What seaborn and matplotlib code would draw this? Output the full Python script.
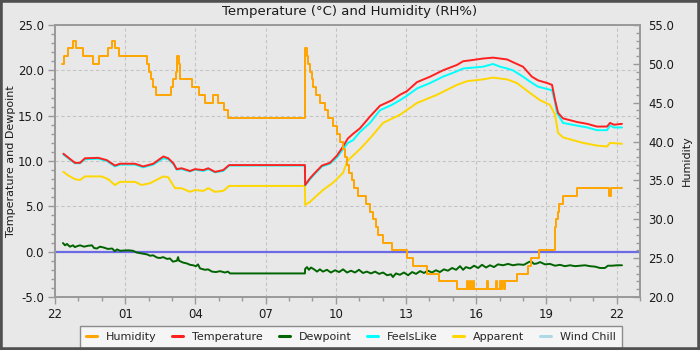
import matplotlib
matplotlib.use("Agg")
import matplotlib.pyplot as plt
from matplotlib.lines import Line2D
from matplotlib.patches import Rectangle
from matplotlib.ticker import MultipleLocator, FixedLocator
import pandas as pd
import seaborn as sns

# All times are hours after 22:00 on the first evening.
hum_hours = [0.30, 0.40, 0.55, 0.75, 0.90, 1.20, 1.62, 1.88, 2.27, 2.42, 2.55, 2.75,
             3.93, 4.02, 4.10, 4.20, 4.33, 4.96, 5.06, 5.15, 5.22, 5.28, 5.33, 5.86,
             6.15, 6.41, 6.75, 6.97, 7.23, 7.40, 10.68, 10.75, 10.82, 10.90, 10.97,
             11.03, 11.15, 11.33, 11.52, 11.67, 11.86, 12.05, 12.20, 12.29, 12.40,
             12.48, 12.58, 12.68, 12.78, 12.95, 13.30, 13.45, 13.58, 13.71, 13.80,
             14.02, 14.40, 15.04, 15.30, 15.90, 16.41, 17.18, 17.60, 17.65, 17.72,
             17.77, 17.85, 17.89, 18.45, 18.52, 18.85, 18.90, 19.00, 19.05, 19.12,
             19.17, 19.23, 19.74, 20.21, 20.34, 20.68, 21.37, 21.43, 21.50, 21.54,
             21.71, 22.31, 23.68, 23.76, 24.23]
hum_values = [50, 51, 52, 53, 52, 51, 50, 51, 52, 53, 52, 51,
              50, 49, 48, 47, 46, 47, 48, 49, 51, 50, 48, 47,
              46, 45, 46, 45, 44, 43, 52, 51, 50, 49, 48,
              47, 46, 45, 44, 43, 42, 41, 40, 39, 38,
              37, 36, 35, 34, 33, 32, 31, 30, 29, 28,
              27, 26, 25, 24, 23, 22, 21, 22, 21, 22,
              21, 22, 21, 22, 21, 22, 21, 22, 21, 22,
              21, 22, 23, 24, 25, 26, 29, 30, 31, 32,
              33, 34, 33, 34, 34]

temp_hours = [0.36, 0.85, 1.07, 1.28, 1.85, 2.21, 2.56, 2.78, 3.42, 3.77, 4.20, 4.63,
              4.84, 5.06, 5.20, 5.41, 5.77, 5.98, 6.34, 6.55, 6.84, 7.19, 7.44, 10.68,
              10.69, 10.90, 11.11, 11.41, 11.75, 12.05, 12.31, 12.52, 12.74, 13.03,
              13.46, 13.89, 14.40, 14.74, 15.04, 15.47, 16.03, 16.58, 17.18, 17.44,
              17.74, 18.29, 18.72, 19.02, 19.32, 19.57, 20.00, 20.38, 20.64, 21.03,
              21.24, 21.37, 21.50, 21.71, 22.31, 22.74, 23.16, 23.59, 23.72, 23.89, 24.23]
temp_values = [10.8, 9.8, 9.8, 10.3, 10.35, 10.1, 9.5, 9.7, 9.7, 9.4, 9.7, 10.5,
               10.3, 9.75, 9.1, 9.2, 8.9, 9.1, 9.0, 9.2, 8.8, 9.0, 9.55, 9.55,
               7.35, 8.1, 8.7, 9.5, 9.8, 10.6, 11.6, 12.5, 13.0, 13.6,
               14.9, 16.1, 16.7, 17.3, 17.7, 18.7, 19.3, 20.0, 20.6, 21.0,
               21.1, 21.3, 21.4, 21.3, 21.2, 20.9, 20.4, 19.3, 18.9, 18.6,
               18.4, 16.7, 15.3, 14.7, 14.3, 14.1, 13.8, 13.8, 14.2, 14.0, 14.1]

feels_hours = [0.36, 0.85, 1.07, 1.28, 1.85, 2.21, 2.56, 2.78, 3.42, 3.77, 4.20, 4.63,
               4.84, 5.06, 5.20, 5.41, 5.77, 5.98, 6.34, 6.55, 6.84, 7.19, 7.44, 10.68,
               10.69, 10.90, 11.11, 11.41, 11.75, 12.05, 12.31, 12.52, 12.74, 13.03,
               13.46, 13.89, 14.40, 14.74, 15.04, 15.47, 16.03, 16.58, 17.18, 17.44,
               18.29, 18.72, 19.02, 19.32, 19.57, 20.00, 20.33, 20.64, 21.24, 21.37,
               21.45, 21.71, 22.31, 22.74, 23.16, 23.59, 23.72, 23.89, 24.23]
feels_values = [10.7, 9.75, 9.75, 10.2, 10.25, 10.0, 9.4, 9.6, 9.6, 9.3, 9.6, 10.3,
                10.2, 9.65, 9.05, 9.1, 8.85, 9.05, 8.9, 9.1, 8.75, 8.9, 9.5, 9.5,
                7.3, 8.0, 8.6, 9.4, 9.7, 10.4, 11.3, 12.0, 12.3, 13.2,
                14.2, 15.6, 16.2, 16.7, 17.2, 18.0, 18.6, 19.3, 19.9, 20.2,
                20.4, 20.7, 20.4, 20.2, 20.0, 19.3, 18.7, 18.2, 17.8, 16.5,
                15.3, 14.2, 13.9, 13.7, 13.4, 13.4, 13.9, 13.7, 13.7]

app_hours = [0.36, 0.57, 0.85, 1.07, 1.28, 1.99, 2.27, 2.56, 2.78, 3.42, 3.70, 4.06,
             4.63, 4.84, 5.13, 5.41, 5.77, 5.98, 6.34, 6.55, 6.84, 7.19, 7.44, 10.68,
             10.69, 10.90, 11.45, 11.88, 12.31, 12.48, 12.61, 13.03, 13.46, 14.02,
             14.74, 15.47, 16.32, 17.18, 17.61, 18.29, 18.72, 19.32, 19.74, 20.30,
             20.73, 21.15, 21.37, 21.50, 21.71, 22.56, 23.16, 23.59, 23.72, 24.23]
app_values = [8.8, 8.4, 8.0, 7.9, 8.3, 8.3, 8.0, 7.35, 7.7, 7.7, 7.35, 7.55,
              8.3, 8.2, 7.0, 7.0, 6.6, 6.8, 6.7, 7.0, 6.6, 6.7, 7.25, 7.25,
              5.15, 5.5, 6.8, 7.6, 8.7, 9.9, 10.3, 11.3, 12.5, 14.2,
              15.1, 16.4, 17.3, 18.4, 18.8, 19.0, 19.2, 19.0, 18.6, 17.5,
              16.7, 16.2, 15.1, 13.1, 12.6, 12.0, 11.7, 11.6, 12.0, 11.9]

dew_hours = [0.34, 0.43, 0.51, 0.64, 0.77, 0.85, 0.94, 1.07, 1.24, 1.41, 1.58, 1.67,
             1.79, 1.92, 2.09, 2.26, 2.44, 2.56, 2.65, 2.78, 3.12, 3.33, 3.50, 3.72,
             3.93, 4.06, 4.19, 4.36, 4.49, 4.62, 4.79, 4.91, 5.04, 5.21, 5.26, 5.30,
             5.47, 5.64, 5.77, 5.90, 6.03, 6.11, 6.20, 6.41, 6.54, 6.71, 6.88, 7.05,
             7.26, 7.39, 7.48, 10.68, 10.69, 10.77, 10.85, 10.94, 11.07, 11.20, 11.32,
             11.45, 11.62, 11.79, 11.97, 12.14, 12.31, 12.48, 12.65, 12.82, 12.99,
             13.16, 13.33, 13.50, 13.68, 13.85, 14.02, 14.19, 14.36, 14.44, 14.57,
             14.74, 14.91, 15.09, 15.26, 15.43, 15.60, 15.77, 15.94, 16.11, 16.28,
             16.45, 16.62, 16.79, 16.97, 17.14, 17.31, 17.44, 17.56, 17.74, 17.91,
             18.08, 18.25, 18.42, 18.59, 18.76, 18.93, 19.15, 19.36, 19.57, 19.79,
             20.04, 20.21, 20.34, 20.47, 20.60, 20.73, 20.94, 21.15, 21.37, 21.58,
             21.79, 22.01, 22.22, 22.44, 22.65, 22.86, 23.08, 23.29, 23.50, 23.63,
             23.80, 24.02, 24.23]
dew_values = [0.95, 0.7, 0.85, 0.55, 0.7, 0.5, 0.6, 0.7, 0.55, 0.65, 0.7, 0.4,
              0.35, 0.55, 0.45, 0.3, 0.35, 0.05, 0.25, 0.1, 0.15, 0.1, -0.1, -0.2,
              -0.3, -0.45, -0.4, -0.65, -0.7, -0.6, -0.8, -0.75, -1.1, -1.0, -0.6, -1.0,
              -1.2, -1.3, -1.45, -1.5, -1.6, -1.4, -1.85, -2.0, -1.95, -2.2, -2.25, -2.15,
              -2.3, -2.2, -2.4, -2.4, -1.9, -1.7, -2.0, -1.75, -1.95, -2.2, -1.95,
              -2.2, -2.0, -2.3, -2.05, -2.25, -1.95, -2.3, -2.1, -2.3, -2.0,
              -2.35, -2.2, -2.4, -2.2, -2.45, -2.3, -2.6, -2.5, -2.8, -2.4,
              -2.55, -2.3, -2.6, -2.25, -2.45, -2.15, -2.35, -2.1, -2.3, -2.05,
              -2.25, -1.95, -2.1, -1.8, -2.0, -1.6, -2.0, -1.7, -1.85, -1.55,
              -1.8, -1.45, -1.75, -1.5, -1.7, -1.4, -1.5, -1.35, -1.5, -1.4,
              -1.45, -1.2, -1.05, -1.35, -1.3, -1.15, -1.4, -1.35, -1.55, -1.45,
              -1.6, -1.5, -1.6, -1.55, -1.5, -1.6, -1.65, -1.8, -1.8, -1.55,
              -1.55, -1.5, -1.5]

tick_hours = [0, 3, 6, 9, 12, 15, 18, 21, 24]
tick_labels = ["22", "01", "04", "07", "10", "13", "16", "19", "22"]

series_names = ["Humidity", "Temperature", "Dewpoint", "FeelsLike", "Apparent", "Wind Chill"]
series_colors = ["#ffa500", "#ff2020", "#006400", "#00ffff", "#ffd700", "#add8e6"]

BG = "#e8e8e8"
SPINE = "#999999"

sns.set_style("ticks")
plt.rcParams.update({
    "font.family": ["DejaVu Sans"],
    "font.size": 8,
    "axes.edgecolor": SPINE,
    "xtick.color": SPINE,
    "ytick.color": SPINE,
    "xtick.labelcolor": "#1a1a1a",
    "ytick.labelcolor": "#1a1a1a",
})

fig = plt.figure(figsize=(7.0, 3.5), dpi=100, facecolor=BG)
ax = fig.add_axes([55 / 700, 1 - 297 / 350, 585 / 700, 272 / 350])
ax.set_facecolor(BG)
ax2 = ax.twinx()
ax2.patch.set_visible(False)

colors = dict(zip(series_names, series_colors))

# freezing line
ax.axhline(0.0, color="#6b6be6", lw=1.6, zorder=1.5)

def draw(axis, hours, values, name, **kw):
    frame = pd.DataFrame({"hour": hours, "value": values})
    sns.lineplot(data=frame, x="hour", y="value", ax=axis, color=colors[name],
                 estimator=None, sort=False, lw=1.4, legend=False, **kw)

draw(ax, dew_hours, dew_values, "Dewpoint")
draw(ax, app_hours, app_values, "Apparent")
draw(ax, feels_hours, feels_values, "FeelsLike")
draw(ax, temp_hours, temp_values, "Temperature")
draw(ax2, hum_hours, hum_values, "Humidity", drawstyle="steps-post")

# left axis
ax.set_xlim(0, 25)
ax.set_ylim(-5, 25)
ax.xaxis.set_major_locator(FixedLocator(tick_hours))
ax.set_xticklabels(tick_labels)
ax.xaxis.set_minor_locator(MultipleLocator(1))
ax.yaxis.set_major_locator(MultipleLocator(5))
ax.yaxis.set_minor_locator(MultipleLocator(1))
ax.yaxis.set_major_formatter(matplotlib.ticker.FormatStrFormatter("%.1f"))
ax.tick_params(axis="both", which="major", length=5, width=1, pad=3, labelsize=8.5)
ax.tick_params(axis="both", which="minor", length=3, width=1)
ax.set_xlabel("")
ax.set_ylabel("Temperature and Dewpoint", fontsize=8, color="#1a1a1a")
ax.yaxis.set_label_coords(-0.066, 0.5)
ax.grid(True, which="major", color="#c4c4c4", lw=0.8, linestyle=(0, (3, 2.2)))
for s in ax.spines.values():
    s.set_color(SPINE)
    s.set_linewidth(1.2)

# right axis
ax2.set_ylim(20, 55)
ax2.yaxis.set_major_locator(MultipleLocator(5))
ax2.yaxis.set_minor_locator(MultipleLocator(1))
ax2.yaxis.set_major_formatter(matplotlib.ticker.FormatStrFormatter("%.1f"))
ax2.tick_params(axis="y", which="major", direction="in", length=5, width=1, pad=6, labelsize=8.5)
ax2.tick_params(axis="y", which="minor", direction="in", length=3, width=1)
ax2.set_ylabel("Humidity", fontsize=8, color="#1a1a1a")
ax2.yaxis.set_label_coords(1.072, 0.5)
for s in ax2.spines.values():
    s.set_color(SPINE)
    s.set_linewidth(1.2)

fig.text(0.5, 1 - 12 / 350, "Temperature (\u00b0C) and Humidity (RH%)",
         ha="center", va="center", fontsize=9.5, color="#1a1a1a")

handles = [Line2D([], [], color=c, lw=2.2) for c in series_colors]
leg = fig.legend(handles, series_names, loc="lower center", ncol=6,
                 bbox_to_anchor=(351 / 700, 2 / 350), bbox_transform=fig.transFigure,
                 fontsize=8, handlelength=1.0, handletextpad=0.8, columnspacing=1.4,
                 borderpad=0.55, borderaxespad=0, fancybox=False, framealpha=1,
                 facecolor="#f5f5f5", edgecolor="#8c8c8c")
leg.get_frame().set_linewidth(1.0)

# outer frame of the panel
fig.patches.append(Rectangle((0, 0), 1, 1, transform=fig.transFigure, fill=False,
                             edgecolor="#505050", lw=4, zorder=10))

fig.savefig("out.png", dpi=100, facecolor=BG)
